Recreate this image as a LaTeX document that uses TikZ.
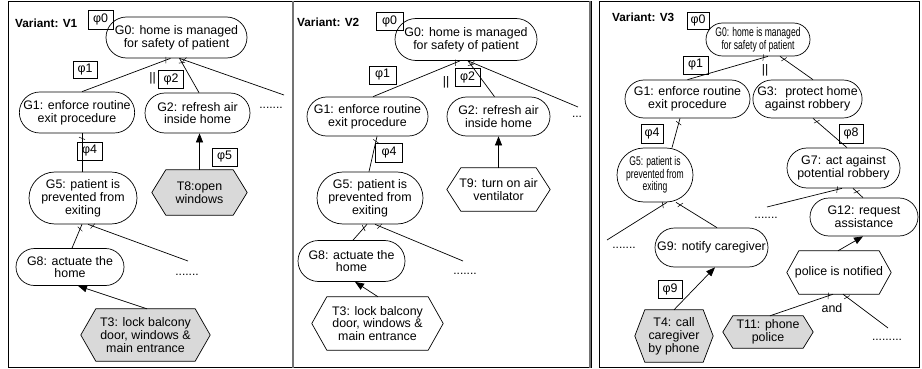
\documentclass[tikz,border=0pt]{standalone}
\usepackage{fontspec}
\setmainfont{Liberation Sans}
\newfontfamily\narrowsf{Liberation Sans}[FakeStretch=0.68]
\usetikzlibrary{shapes.misc,arrows.meta,decorations.markings,backgrounds}

\definecolor{taskgray}{gray}{0.85}

\tikzset{
  base/.style={font=\fontsize{12.4}{12.8}\selectfont, align=center, inner sep=0pt},
  goal/.style={base, draw, rounded rectangle, line width=0.7pt},
  taskbox/.style={base, rectangle},
  phibox/.style={base, draw, line width=0.6pt},
  lbl/.style={font=\bfseries\fontsize{11.8}{12}\selectfont, inner sep=0pt, anchor=west},
  dotlbl/.style={font=\fontsize{12}{12}\selectfont, inner sep=0pt},
  conn/.style={line width=0.7pt},
  tick/.style={postaction={decorate, decoration={markings,
      mark=at position 5pt with {\draw[line width=0.5pt] (-1.2pt,-3pt) -- (1.2pt,3pt);}}}},
  realize/.style={line width=0.7pt, -{Triangle[length=9pt,width=7pt]}},
  hexline/.style={line width=0.7pt},
  panelframe/.style={line width=0.8pt},
  divider/.style={line width=1.6pt, draw=black!55},
  narrowgoal/.style={goal, font=\narrowsf\fontsize{12.6}{12.6}\selectfont},
}

% hexagonal task outline around a (plain) node: node, point depth, fill
\newcommand\hexframe[3]{%
  \begin{pgfonlayer}{background}
  \draw[hexline, fill=#3] (#1.west) -- ([xshift=#2]#1.north west)
     -- ([xshift=-#2]#1.north east) -- (#1.east)
     -- ([xshift=-#2]#1.south east) -- ([xshift=#2]#1.south west) -- cycle;
  \end{pgfonlayer}}

\begin{document}
\begin{tikzpicture}[x=1pt,y=-1pt]
\useasboundingbox (0,0) rectangle (922,369);

% panel frames
\draw[panelframe] (8,1) rectangle (591,367.5);
\draw[divider] (293,1) -- (293,367.5);
\draw[divider] (590,1) -- (590,367.5);
\draw[panelframe] (599,1) rectangle (919,367);

% ---------------- Variant V1 ----------------
\node[lbl] (labA) at (15,23) {Variant: V1};
\node[phibox, minimum width=25pt, minimum height=19pt] (phi0a) at (100.5,19.5) {φ0};
\node[goal, minimum width=141pt, minimum height=41pt] (g0a) at (176.5,37.5) {G0: home is managed\\for safety of patient};
\node[phibox, minimum width=24pt, minimum height=17pt] (phi1a) at (85,70) {φ1};
\node[base] (barA) at (152.5,78) {||};
\node[phibox, minimum width=25pt, minimum height=18pt] (phi2a) at (171,79) {φ2};
\node[goal, minimum width=112pt, minimum height=41pt] (g1a) at (77,112.5) {G1: enforce routine\\exit procedure};
\node[goal, minimum width=105pt, minimum height=40pt] (g2a) at (197.5,113) {G2: refresh air\\inside home};
\node[dotlbl] (dotsA1) at (271,108) {.......};
\coordinate (endA1) at (284,95);
\node[phibox, minimum width=25pt, minimum height=18pt] (phi4a) at (89.5,151) {φ4};
\node[goal, minimum width=108pt, minimum height=52pt] (g5a) at (83,198) {G5: patient is\\prevented from\\exiting};
\node[taskbox, minimum width=95pt, minimum height=45pt] (t8) at (199.5,192.5) {T8:open\\windows};
\hexframe{t8}{14pt}{taskgray}
\node[phibox, minimum width=25pt, minimum height=18pt] (phi5) at (224.5,157) {φ5};
\node[goal, minimum width=108pt, minimum height=37pt] (g8a) at (70,267) {G8: actuate the\\home};
\node[dotlbl] (dotsA2) at (187,275) {.......};
\coordinate (endA2) at (188,261);
\node[taskbox, minimum width=129pt, minimum height=52pt] (t3a) at (145.5,335) {T3: lock balcony\\door, windows \&\\main entrance};
\hexframe{t3a}{15pt}{taskgray}

\draw[conn,tick] ([xshift=-6pt]g0a.south) -- ([xshift=5pt]g1a.north);
\draw[conn,tick] ([xshift=3pt]g0a.south) -- ([xshift=1.5pt]g2a.north);
\draw[conn,tick] ([xshift=3pt]g0a.south) -- (endA1);
\draw[conn,tick] ([xshift=5pt]g1a.south) -- ([xshift=-1pt]g5a.north);
\draw[conn,tick] ([xshift=-1pt]g5a.south) -- ([xshift=2pt]g8a.north);
\draw[conn,tick] ([xshift=5pt]g5a.south) -- (endA2);
\draw[realize] (t8.north) -- (t8.north |- g2a.south);
\draw[realize] ([xshift=1.5pt]t3a.north) -- ([xshift=8pt]g8a.south);

% ---------------- Variant V2 ----------------
\node[lbl] (labB) at (297,22) {Variant: V2};
\node[phibox, minimum width=27pt, minimum height=18pt] (phi0b) at (389.5,21) {φ0};
\node[goal, minimum width=142pt, minimum height=42pt] (g0b) at (466,39.5) {G0: home is managed\\for safety of patient};
\node[phibox, minimum width=27pt, minimum height=18pt] (phi1b) at (382.5,75) {φ1};
\node[base] (barB) at (446,82) {||};
\node[phibox, minimum width=25pt, minimum height=18pt] (phi2b) at (467.5,77) {φ2};
\node[goal, minimum width=121pt, minimum height=39pt] (g1b) at (367.5,116.5) {G1: enforce routine\\exit procedure};
\node[goal, minimum width=103pt, minimum height=39pt] (g2b) at (498.5,116.5) {G2: refresh air\\inside home};
\node[dotlbl] (dotsB1) at (577,117) {...};
\coordinate (endB1) at (578,107);
\node[phibox, minimum width=27pt, minimum height=19pt] (phi4b) at (389,153) {φ4};
\node[goal, minimum width=106pt, minimum height=52pt] (g5b) at (370,198) {G5: patient is\\prevented from\\exiting};
\node[taskbox, minimum width=103pt, minimum height=43pt] (t9) at (498.5,189.5) {T9: turn on air\\ventilator};
\hexframe{t9}{14pt}{white}
\node[goal, minimum width=107pt, minimum height=41pt] (g8b) at (351.5,261) {G8: actuate the\\home};
\node[dotlbl] (dotsB2) at (465,274) {.......};
\coordinate (endB2) at (463,261);
\node[taskbox, minimum width=131pt, minimum height=53pt] (t3b) at (377.5,323.5) {T3: lock balcony\\door, windows \&\\main entrance};
\hexframe{t3b}{15pt}{white}

\draw[conn,tick] ([xshift=-6pt]g0b.south) -- ([xshift=5.5pt]g1b.north);
\draw[conn,tick] ([xshift=2pt]g0b.south) -- ([xshift=-4pt]g2b.north);
\draw[conn,tick] ([xshift=2pt]g0b.south) -- (endB1);
\draw[conn,tick] ([xshift=9.5pt]g1b.south) -- ([xshift=-1pt]g5b.north);
\draw[conn,tick] ([xshift=-3pt]g5b.south) -- ([xshift=1.5pt]g8b.north);
\draw[conn,tick] ([xshift=5pt]g5b.south) -- (endB2);
\draw[realize] (t9.north) -- (t9.north |- g2b.south);
\draw[realize] ([xshift=0.5pt]t3b.north) -- ([xshift=3.5pt]g8b.south);

% ---------------- Variant V3 ----------------
\node[lbl] (labC) at (612,17) {Variant: V3};
\node[phibox, minimum width=22pt, minimum height=17pt] (phi0c) at (698,20.5) {φ0};
\node[narrowgoal, minimum width=104pt, minimum height=33pt] (g0c) at (758,39.5) {G0: home is managed\\for safety of patient};
\node[phibox, minimum width=25pt, minimum height=18pt] (phi1c) at (695.5,65) {φ1};
\node[base] (barC) at (765,70) {||};
\node[goal, minimum width=125pt, minimum height=38pt] (g1c) at (687.5,99) {G1: enforce routine\\exit procedure};
\node[goal, minimum width=109pt, minimum height=38pt] (g3c) at (807.5,99) {G3:~ protect home\\against robbery};
\node[phibox, minimum width=22pt, minimum height=19pt] (phi4c) at (652,133.5) {φ4};
\node[narrowgoal, minimum width=76pt, minimum height=54pt] (g5c) at (655,175) {G5: patient is\\prevented from\\exiting};
\node[phibox, minimum width=24pt, minimum height=19pt] (phi8) at (851,133.5) {φ8};
\node[goal, minimum width=113pt, minimum height=40pt] (g7c) at (843.5,168) {G7: act against\\potential robbery};
\node[dotlbl] (dotsC1) at (624,248) {.......};
\coordinate (endC1) at (607,240);
\node[goal, minimum width=113pt, minimum height=39pt] (g9c) at (711.5,247.5) {G9: notify caregiver};
\node[dotlbl] (dotsC2) at (766,218) {.......};
\coordinate (endC2) at (767,207);
\node[goal, minimum width=108pt, minimum height=38pt] (g12c) at (864,217) {G12: request\\assistance};
\node[taskbox, minimum width=104pt, minimum height=43pt] (police) at (839,272.5) {police is notified};
\hexframe{police}{12pt}{white}
\node[taskbox, minimum width=90pt, minimum height=32pt] (t11) at (768,332) {T11: phone\\police};
\hexframe{t11}{10pt}{taskgray}
\node[taskbox, minimum width=78pt, minimum height=52pt] (t4) at (674,336) {T4: call\\caregiver\\by phone};
\hexframe{t4}{10pt}{taskgray}
\node[phibox, minimum width=24pt, minimum height=18pt] (phi9) at (670,289) {φ9};
\node[base] (andlbl) at (832,308) {and};
\coordinate (endC3) at (888,328);
\node[dotlbl] (dotsC3) at (887,340) {.........};

\draw[conn,tick] ([xshift=10pt]g0c.south) -- (g1c.north);
\draw[conn,tick] ([xshift=22pt]g0c.south) -- ([xshift=5.5pt]g3c.north);
\draw[conn,tick] ([xshift=-7.5pt]g1c.south) -- ([xshift=17pt]g5c.north);
\draw[conn,tick] ([xshift=5.5pt]g3c.south) -- ([xshift=3.5pt]g7c.north);
\draw[conn,tick] ([xshift=12pt]g5c.south) -- (endC1);
\draw[conn,tick] ([xshift=21pt]g5c.south) -- ([xshift=5.5pt]g9c.north);
\draw[conn,tick] ([xshift=-1.5pt]g7c.south) -- (endC2);
\draw[conn,tick] ([xshift=9.5pt]g7c.south) -- ([xshift=-1pt]g12c.north);
\draw[conn,tick] ([xshift=-6pt]police.south) -- ([xshift=2pt]t11.north);
\draw[conn,tick] ([xshift=4pt]police.south) -- (endC3);
\draw[realize] ([xshift=-1pt]police.north) -- ([xshift=-1pt]g12c.south);
\draw[realize] (t4.north) -- ([xshift=3.5pt]g9c.south);
\end{tikzpicture}
\end{document}
